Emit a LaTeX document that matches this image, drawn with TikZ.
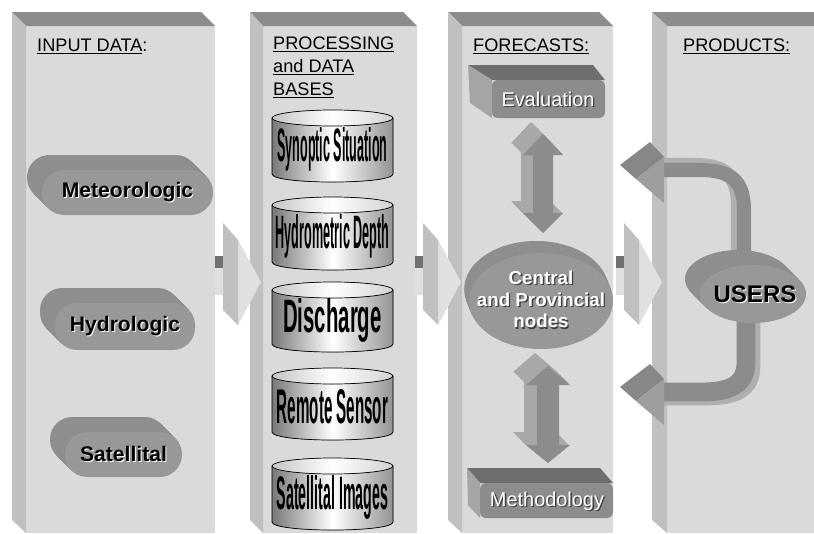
\documentclass[tikz,border=0pt]{standalone}
\usepackage{fontspec}
\setmainfont{Liberation Sans}
\usepackage{graphicx}

\definecolor{panelface}{RGB}{218,218,218}
\definecolor{paneltop}{RGB}{140,140,140}
\definecolor{panelside}{RGB}{192,192,192}
\definecolor{pillfront}{RGB}{152,152,152}
\definecolor{pillside}{RGB}{122,122,122}
\definecolor{boxfront}{RGB}{140,140,140}
\definecolor{boxtop}{RGB}{110,110,110}
\definecolor{boxside}{RGB}{165,165,165}
\definecolor{arrowdark}{RGB}{112,112,112}
\definecolor{dblfront}{RGB}{140,140,140}
\definecolor{dblside}{RGB}{168,168,168}
\definecolor{bandfront}{RGB}{140,140,140}
\definecolor{bandside}{RGB}{175,175,175}
\definecolor{headdark}{RGB}{135,135,135}
\definecolor{headlight}{RGB}{158,158,158}
\definecolor{cylgray}{RGB}{120,120,120}

\newcommand{\litshadow}[1]{\rlap{\kern0.9pt\raisebox{-0.9pt}{\textcolor{white}{#1}}}#1}
\newcommand{\darkshadow}[1]{\rlap{\kern1.1pt\raisebox{-1.1pt}{\textcolor{black!75}{#1}}}\textcolor{white}{#1}}

\tikzset{
  paneltitle/.style={anchor=north west, inner sep=0pt, align=left,
    font=\fontsize{15.5}{19.6}\selectfont},
  pilltext/.style={inner sep=0pt, font=\fontsize{18}{20}\selectfont\bfseries},
  boxtext/.style={inner sep=0pt, font=\fontsize{17}{20}\selectfont},
  nodetext/.style={inner sep=0pt, align=center, font=\fontsize{16}{18.7}\selectfont\bfseries},
  cyltext/.style={inner sep=0pt},
}

\begin{document}
\begin{tikzpicture}[x=0.03cm, y=-0.03cm]
  \useasboundingbox (0,0) rectangle (814,533);

  % Panels
  \foreach \xa/\xb/\xc in {12/26/215, 250/263/417, 448/462/613, 652/667/828} {
    \fill[panelface] (\xb,26) rectangle (\xc,533);
    \fill[paneltop] (\xa,12) -- ({\xc-14},12) -- (\xc,26) -- (\xb,26) -- cycle;
    \fill[panelside] (\xa,12) -- (\xb,26) -- (\xb,533) -- (\xa,520) -- cycle;
  }

  % Arrows between panels
  \foreach \xo in {223,423,624} {
    \fill[arrowdark] ({\xo-8},256) -- ({\xo+4},256) -- ({\xo+15},268) -- ({\xo-8},268) -- cycle;
    \fill[panelface!85!white] ({\xo-8},268) -- ({\xo+15},268) -- ({\xo+15},240) -- ({\xo+38},282)
      -- ({\xo+15},325) -- ({\xo+15},295) -- ({\xo-8},295) -- cycle;
    \fill[panelside] (\xo,223) -- ({\xo+15},240) -- ({\xo+15},325) -- (\xo,310) -- cycle;
  }

  % Titles
  \node[paneltitle] (input) at (37,39) {\underline{INPUT DATA}:};
  \node[paneltitle] (processing) at (273,37) {\underline{PROCESSING}\\\underline{and DATA}\\\underline{BASES}};
  \node[paneltitle] (forecasts) at (473,39) {\underline{FORECASTS:}};
  \node[paneltitle] (products) at (683,39) {\underline{PRODUCTS:}};

  % Input data pills
  \foreach \xl/\yt/\xr/\yb/\lab in {42/170/213/215/Meteorologic, 55/303/195/350/Hydrologic, 65/432/182/477/Satellital} {
    \foreach \d in {15,...,1}
      \fill[pillside!85!white, rounded corners=19pt] ({\xl-\d},{\yt-\d}) rectangle ({\xr-\d},{\yb-\d});
    \fill[pillfront, rounded corners=19pt] (\xl,\yt) rectangle (\xr,\yb);
    \node[pilltext] (pill\lab) at ({(\xl+\xr)/2},{(\yt+\yb)/2}) {\litshadow{\lab}};
  }

  % Data bases
  \foreach \yt/\yb/\w/\lab [count=\i] in {118/174/94/Synoptic Situation, 205/262/97/Hydrometric Depth,
      290/344/84/Discharge, 376/432/95/Remote Sensor, 466/522/95/Satellital Images} {
    \fill[left color=cylgray, right color=cylgray!80, middle color=white]
      (272,\yt) -- (272,\yb) .. controls (272,{\yb+10.7}) and (393,{\yb+10.7}) .. (393,\yb) -- (393,\yt) -- cycle;
    \draw[line width=0.6pt] (272,\yt) -- (272,\yb) .. controls (272,{\yb+10.7}) and (393,{\yb+10.7}) .. (393,\yb) -- (393,\yt);
    \fill[left color=gray!45, right color=gray!35, middle color=white] (332.5,\yt) ellipse [x radius=60.5, y radius=8];
    \draw[line width=0.6pt] (332.5,\yt) ellipse [x radius=60.5, y radius=8];
    \node[cyltext] (base\i) at (332.5,{(\yt+\yb)/2+3}) {\resizebox{\w pt}{29pt}{\bfseries \lab}};
  }

  % Forecasts
  \fill[boxtop] (468,65) -- (593,65) -- (605,80) -- (492,80) -- cycle;
  \fill[boxside] (468,65) -- (492,80) -- (492,118) -- (470,103) -- cycle;
  \fill[boxfront, rounded corners=5pt] (492,80) rectangle (605,118);
  \node[boxtext] (evaluation) at (548,100) {\darkshadow{Evaluation}};

  \foreach \d in {12,...,1}
    \fill[dblside, shift={(-\d,-\d)}] (543,134) -- (563,155) -- (553,155) -- (553,213) -- (563,213) -- (543,233)
      -- (523,213) -- (533,213) -- (533,155) -- (523,155) -- cycle;
  \fill[dblfront] (543,134) -- (563,155) -- (553,155) -- (553,213) -- (563,213) -- (543,233)
    -- (523,213) -- (533,213) -- (533,155) -- (523,155) -- cycle;

  \foreach \d in {12,...,1}
    \fill[pillside!85!white] ({541-0.4*\d},{301-\d}) ellipse [x radius=72, y radius=48];
  \fill[pillfront] (541,301) ellipse [x radius=72, y radius=48];
  \node[nodetext] (central) at (541,300) {\darkshadow{Central}\\\darkshadow{and Provincial}\\\darkshadow{nodes}};

  \foreach \d in {13,...,1}
    \fill[dblside, shift={(-\d,-\d)}] (548,366) -- (570,385) -- (559,385) -- (559,445) -- (570,445) -- (548,463)
      -- (526,445) -- (537,445) -- (537,385) -- (526,385) -- cycle;
  \fill[dblfront] (548,366) -- (570,385) -- (559,385) -- (559,445) -- (570,445) -- (548,463)
    -- (526,445) -- (537,445) -- (537,385) -- (526,385) -- cycle;

  \fill[boxtop] (467,468) -- (600,468) -- (613,483) -- (480,483) -- cycle;
  \fill[boxside] (467,468) -- (480,483) -- (480,518) -- (468,505) -- cycle;
  \fill[boxfront, rounded corners=5pt] (480,483) rectangle (613,518);
  \node[boxtext] (methodology) at (547,502) {\darkshadow{Methodology}};

  % Products
  \draw[bandside, line width=12pt] (738,252) -- (738,205) .. controls (738,175) and (724,165) .. (694,165) -- (664,165);
  \draw[bandfront, line width=12pt] (744,252) -- (744,210) .. controls (744,180) and (730,170) .. (700,170) -- (664,170);
  \draw[bandside, line width=16pt] (751,318) -- (751,366) .. controls (751,389) and (735,396) .. (705,396) -- (664,396);
  \draw[bandfront, line width=16pt] (746,318) -- (746,362) .. controls (746,385) and (730,392) .. (700,392) -- (664,392);

  \foreach \d in {15,...,1}
    \fill[pillside!85!white] ({753-\d},{294-\d}) ellipse [x radius=53, y radius=29];
  \fill[pillfront] (753,294) ellipse [x radius=53, y radius=29];
  \node[pilltext, font=\fontsize{20.5}{22}\selectfont\bfseries] (users) at (755,295) {\litshadow{USERS}};

  \foreach \yo in {0,222} {
    \fill[headdark] (620,{165+\yo}) -- (650,{142+\yo}) -- (664,{157+\yo}) -- (636,{179+\yo}) -- cycle;
    \fill[headlight] (636,{179+\yo}) -- (664,{157+\yo}) -- (664,{203+\yo}) -- cycle;
  }
\end{tikzpicture}
\end{document}
